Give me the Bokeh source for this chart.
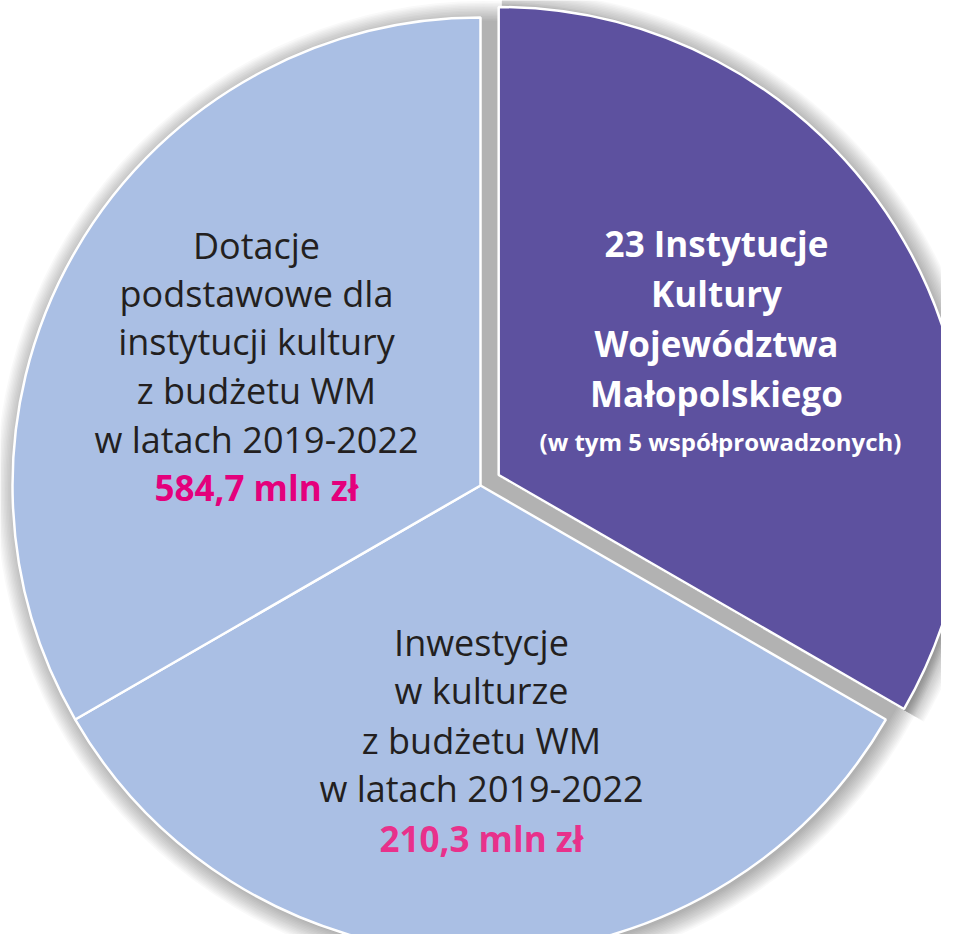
import math
from bokeh.plotting import figure
from bokeh.models import Range1d
from bokeh.embed import file_html
from bokeh.resources import INLINE
from bokeh.core.properties import value

# ---- data ----
categories = ["23 Instytucje Kultury Województwa Małopolskiego",
              "Inwestycje w kulturze", "Dotacje podstawowe"]
shares = [1, 1, 1]
colors = ["#5D519F", "#AABFE4", "#AABFE4"]
exploded = [True, False, False]

purple_lines = ["23 Instytucje", "Kultury", "Województwa", "Małopolskiego"]
purple_note = "(w tym 5 współprowadzonych)"
left_lines = ["Dotacje", "podstawowe dla", "instytucji kultury",
              "z budżetu WM", "w latach 2019-2022"]
left_value = "584,7 mln zł"
bottom_lines = ["Inwestycje", "w kulturze", "z budżetu WM", "w latach 2019-2022"]
bottom_value = "210,3 mln zł"

# ---- layout ----
PW, PH = 941, 934
FONT = "Open Sans"
p = figure(width=PW, height=PH,
           x_range=Range1d(0, PW), y_range=Range1d(0, PH),
           output_backend="svg", toolbar_location=None, min_border=0)
p.axis.visible = False
p.grid.visible = False
p.outline_line_color = None
p.background_fill_color = "white"


def Y(ref_y):
    return PH - ref_y


cx, cy = 480, Y(485)
R = 468
EXPLODE = 21
SH_DX, SH_DY = 3, -3

# angles (clockwise from top)
total = sum(shares)
slices = []
a = 90.0
for s, c, e in zip(shares, colors, exploded):
    span = s / total * 360.0
    hi, lo = a, a - span
    mid = math.radians((hi + lo) / 2)
    ox = EXPLODE * math.cos(mid) if e else 0.0
    oy = EXPLODE * math.sin(mid) if e else 0.0
    slices.append((math.radians(lo), math.radians(hi), cx + ox, cy + oy, c, e))
    a = lo

# soft shadow of whole pie
for k in range(14):
    p.circle(x=cx + SH_DX, y=cy + SH_DY, radius=R + k * 1.5,
             fill_color="black", fill_alpha=0.022, line_color=None)
# soft shadow of exploded slices
for lo, hi, x, y, c, e in slices:
    if e:
        for k in range(14):
            p.wedge(x=x + SH_DX, y=y + SH_DY, radius=R + k * 1.5,
                    start_angle=lo, end_angle=hi, direction="anticlock",
                    fill_color="black", fill_alpha=0.022, line_color=None)

for lo, hi, x, y, c, e in slices:
    p.wedge(x=x, y=y, radius=R, start_angle=lo, end_angle=hi,
            direction="anticlock", fill_color=c, line_color="white",
            line_width=2.5)

# ---- labels ----
reg_size = "36px"
val_size = "35px"
p.text(x=[256] * len(left_lines), y=[Y(v) for v in [245, 293, 341, 390, 439]],
       text=left_lines, text_align="center", text_baseline="alphabetic",
       text_font=value(FONT), text_font_size=reg_size, text_color="#231F20")
p.text(x=[256], y=[Y(487)], text=[left_value], text_align="center",
       text_baseline="alphabetic", text_font=value(FONT),
       text_font_size=val_size, text_font_style="bold", text_color="#E4007C")

p.text(x=[481] * len(bottom_lines), y=[Y(v) for v in [642, 690, 740, 788]],
       text=bottom_lines, text_align="center", text_baseline="alphabetic",
       text_font=value(FONT), text_font_size=reg_size, text_color="#231F20")
p.text(x=[481], y=[Y(838)], text=[bottom_value], text_align="center",
       text_baseline="alphabetic", text_font=value(FONT),
       text_font_size=val_size, text_font_style="bold", text_color="#E8318B")

p.text(x=[716] * len(purple_lines), y=[Y(v) for v in [243, 293, 343, 393]],
       text=purple_lines, text_align="center", text_baseline="alphabetic",
       text_font=value(FONT), text_font_size="35px", text_font_style="bold",
       text_color="white")
p.text(x=[720], y=[Y(441)], text=[purple_note], text_align="center",
       text_baseline="alphabetic", text_font=value(FONT), text_font_size="24px",
       text_font_style="bold", text_color="white")

open("out.html", "w").write(file_html(p, INLINE))
